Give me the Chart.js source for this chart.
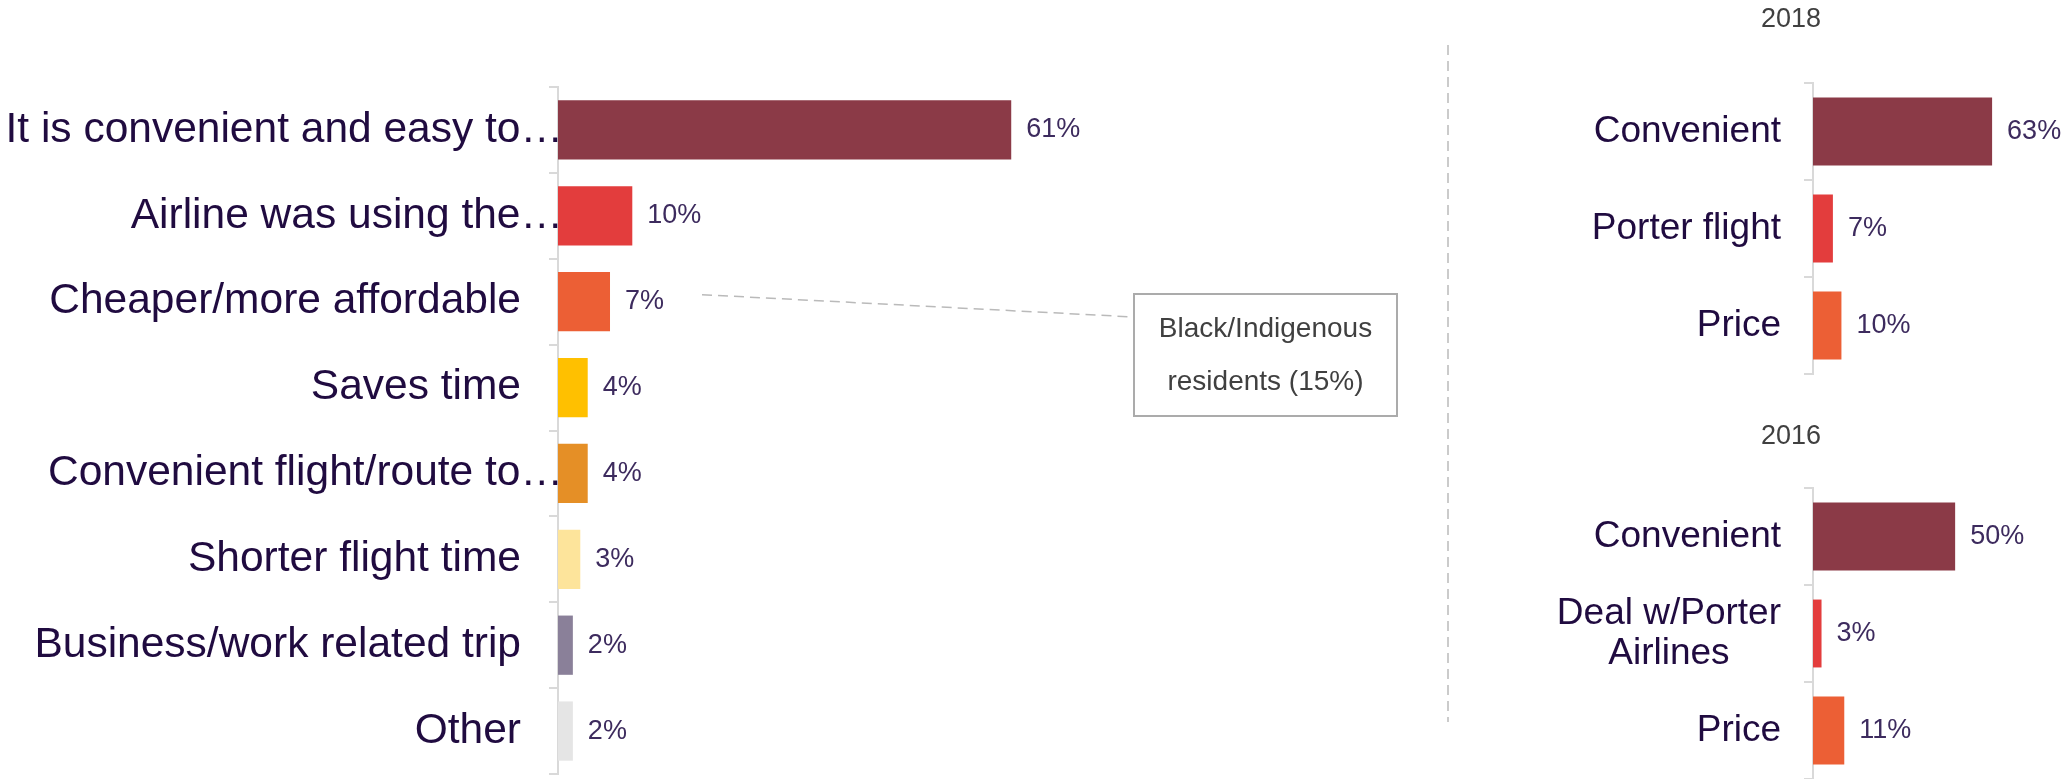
<!DOCTYPE html>
<html>
<head>
<meta charset="utf-8">
<script src="https://cdn.jsdelivr.net/npm/chart.js@4.4.1/dist/chart.umd.min.js"></script>
<style>
  body { margin: 0; background: #fff; }
  canvas { position: absolute; }
</style>
</head>
<body>
<canvas id="reasonsChart" width="1460" height="779" style="left:0;top:0"></canvas>
<canvas id="chart2018" width="605" height="390" style="left:1460px;top:0"></canvas>
<canvas id="chart2016" width="605" height="379" style="left:1460px;top:400px"></canvas>
<script>
// Main question - reasons for choosing the airport
const reasonLabels = [
  'It is convenient and easy to…',
  'Airline was using the…',
  'Cheaper/more affordable',
  'Saves time',
  'Convenient flight/route to…',
  'Shorter flight time',
  'Business/work related trip',
  'Other'
];
const reasonValues = [61, 10, 7, 4, 4, 3, 2, 2];
const reasonColors = ['#8b3a47', '#e33d3d', '#ec5f35', '#ffc000', '#e58f26', '#fde49b', '#8a8099', '#e5e5e5'];

// Previous years
const labels2018 = ['Convenient', 'Porter flight', 'Price'];
const values2018 = [63, 7, 10];
const labels2016 = ['Convenient', ['Deal w/Porter', 'Airlines'], 'Price'];
const values2016 = [50, 3, 11];
const pastColors = ['#8b3a47', '#e33d3d', '#ec5f35'];

// Callout next to "Cheaper/more affordable"
const calloutIndex = 2;
const calloutText = ['Black/Indigenous', 'residents (15%)'];

const FONT = "'Liberation Sans', Arial, sans-serif";
const LABEL_COLOR = '#200b40';
const VALUE_COLOR = '#3d2b5e';

// category names, value labels and year titles are drawn here
const labelPlugin = {
  id: 'barLabels',
  afterDatasetsDraw(chart, args, opts) {
    const ctx = chart.ctx;
    const yScale = chart.scales.y;
    ctx.save();
    ctx.textBaseline = 'middle';
    ctx.fillStyle = LABEL_COLOR;
    ctx.font = opts.labelSize + 'px ' + FONT;
    chart.data.labels.forEach((label, i) => {
      const y = yScale.getPixelForValue(i);
      const lines = Array.isArray(label) ? label : [label];
      const pad = lines[lines.length - 1].endsWith('…') ? opts.ellipsisPad : opts.labelPad;
      const maxW = Math.max(...lines.map(l => ctx.measureText(l).width));
      const cx = yScale.right - pad - maxW / 2;
      ctx.textAlign = 'center';
      lines.forEach((l, j) => {
        ctx.fillText(l, cx, y + (j - (lines.length - 1) / 2) * opts.lineHeight);
      });
    });

    ctx.fillStyle = VALUE_COLOR;
    ctx.font = opts.valueSize + 'px ' + FONT;
    ctx.textAlign = 'left';
    const data = chart.data.datasets[0].data;
    chart.getDatasetMeta(0).data.forEach((bar, i) => {
      ctx.fillText(data[i] + '%', bar.x + opts.valueGap, bar.y);
    });

    if (opts.title) {
      ctx.fillStyle = '#404040';
      ctx.font = opts.titleSize + 'px ' + FONT;
      ctx.textAlign = 'center';
      ctx.fillText(opts.title, yScale.right - 22, opts.titleY);
    }
    ctx.restore();
  }
};

// dashed divider and the callout box
const calloutPlugin = {
  id: 'callout',
  afterDraw(chart) {
    const ctx = chart.ctx;
    const bar = chart.getDatasetMeta(0).data[calloutIndex];
    const box = { x: 1134, y: 294, w: 263, h: 122 };
    ctx.save();
    ctx.strokeStyle = '#bababa';
    ctx.lineWidth = 1.5;
    ctx.setLineDash([10, 6]);
    ctx.beginPath();
    ctx.moveTo(bar.x + 92, bar.y - 7);
    ctx.lineTo(box.x, box.y + 23);
    ctx.stroke();

    ctx.beginPath();
    ctx.moveTo(1448, 45);
    ctx.lineTo(1448, 722);
    ctx.stroke();

    ctx.setLineDash([]);
    ctx.strokeStyle = '#ababab';
    ctx.lineWidth = 2;
    ctx.strokeRect(box.x, box.y, box.w, box.h);

    ctx.fillStyle = '#404040';
    ctx.font = '28px ' + FONT;
    ctx.textAlign = 'center';
    ctx.textBaseline = 'middle';
    ctx.fillText(calloutText[0], box.x + box.w / 2, box.y + 35);
    ctx.fillText(calloutText[1], box.x + box.w / 2, box.y + 88);
    ctx.restore();
  }
};

function makeChart(id, labels, values, colors, cfg) {
  const ctx = document.getElementById(id).getContext('2d');
  return new Chart(ctx, {
    type: 'bar',
    data: {
      labels,
      datasets: [{
        data: values,
        backgroundColor: colors,
        barPercentage: cfg.barPct,
        categoryPercentage: 1
      }]
    },
    options: {
      indexAxis: 'y',
      responsive: false,
      animation: false,
      layout: { padding: { top: cfg.top, bottom: cfg.bottom, right: cfg.right, left: 0 } },
      scales: {
        x: { display: false, min: 0, max: cfg.max },
        y: {
          afterFit: (scale) => { scale.width = cfg.axisX; },
          ticks: { display: false },
          grid: { drawOnChartArea: false, drawTicks: true, tickLength: 9, color: '#d9d9d9', lineWidth: 2 },
          border: { display: true, color: '#d9d9d9', width: 2 }
        }
      },
      plugins: {
        legend: { display: false },
        tooltip: { enabled: false },
        barLabels: {
          labelSize: cfg.labelSize, lineHeight: 40, labelPad: cfg.labelPad, ellipsisPad: -5,
          valueSize: 27, valueGap: 15,
          title: cfg.title, titleSize: 27, titleY: cfg.titleY
        }
      }
    },
    plugins: cfg.extra ? [labelPlugin, cfg.extra] : [labelPlugin]
  });
}

document.addEventListener('DOMContentLoaded', () => {
  makeChart('reasonsChart', reasonLabels, reasonValues, reasonColors,
    { barPct: 0.69, top: 87, bottom: 5, right: 159, axisX: 558, max: 100,
      labelSize: 42.5, labelPad: 37, extra: calloutPlugin });
  makeChart('chart2018', labels2018, values2018, pastColors,
    { barPct: 0.7, top: 83, bottom: 16, right: 53, axisX: 353, max: 70,
      labelSize: 37, labelPad: 32, title: '2018', titleY: 20 });
  makeChart('chart2016', labels2016, values2016, pastColors,
    { barPct: 0.7, top: 88, bottom: 0, right: 53, axisX: 353, max: 70,
      labelSize: 37, labelPad: 32, title: '2016', titleY: 37 });
});
</script>
</body>
</html>
